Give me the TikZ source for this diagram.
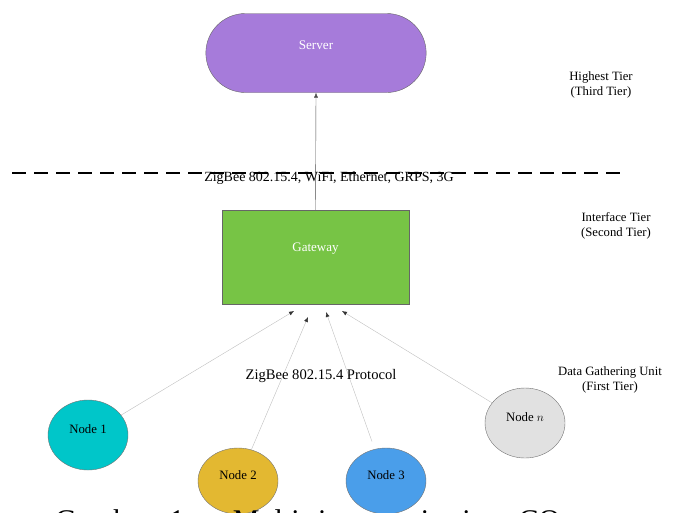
\documentclass[tikz,border=0pt]{standalone}
\usepackage{fontspec}
\setmainfont{Liberation Serif}
\usetikzlibrary{arrows.meta, shapes.geometric, shapes.misc}

\definecolor{serverpurple}{HTML}{A67BDA}
\definecolor{gatewaygreen}{HTML}{77C445}
\definecolor{nodecyan}{HTML}{00C6C9}
\definecolor{nodeyellow}{HTML}{E3B831}
\definecolor{nodeblue}{HTML}{4A9EEA}
\definecolor{nodegray}{HTML}{E1E1E1}

\begin{document}
\begin{tikzpicture}[x=1pt,y=-1pt,>={Latex[length=5pt,width=4pt]},
    tier/.style={align=center,font=\fontsize{12.7}{15.5}\selectfont},
    unit/.style={ellipse,draw=black!55,minimum width=80pt,minimum height=70pt,inner sep=0pt,text depth=11pt,font=\fontsize{12.8}{14}\selectfont},
    link/.style={draw=black!25,-{Latex[length=5pt,width=4pt,color=black!80]}}]
            \useasboundingbox (0,0) rectangle (676,512);

            % draw the tier border
            \draw[line width=2pt,dash pattern=on 14pt off 8pt] (12,173) -- (620,173);

            % server and gateway
            \node[rounded rectangle,draw=black!60,fill=serverpurple,minimum width=227pt,minimum height=79pt,
                label={[text=white,font=\fontsize{13.2}{14}\selectfont,yshift=8pt]center:Server}] (server) at (316,53) {};
            \node[rectangle,draw=black!60,fill=gatewaygreen,minimum width=187pt,minimum height=94pt,
                label={[text=white,font=\fontsize{13}{14}\selectfont,yshift=8pt]center:Gateway}] (gateway) at (315.5,257) {};

            %uplink
            \draw[black!70,->] (gateway.north) -- (server.south);
            \node[font=\fontsize{14}{15}\selectfont] (uplink) at (329,178) {ZigBee 802.15.4, WiFi, Ethernet, GRPS, 3G};

            % the sensor nodes
            \node[unit,fill=nodecyan,minimum height=70pt] (n1) at (88,435) {Node 1};
            \node[unit,fill=nodeyellow,minimum height=66pt] (n2) at (238,481) {Node 2};
            \node[unit,fill=nodeblue,minimum height=66pt] (n3) at (386,481) {Node 3};
            \node[unit,fill=nodegray,minimum height=70pt] (nn) at (525,423) {Node $n$};

            % arrow tips under the gateway
            \coordinate (t1) at (294,311);
            \coordinate (t2) at (308,317);
            \coordinate (t3) at (326,312);
            \coordinate (t4) at (342,311);
            \draw[link] (n1) -- (t1);
            \draw[link] (n2) -- (t2);
            \draw[link,shorten <=8pt] (n3) -- (t3);
            \draw[link] (nn) -- (t4);
            \node[font=\fontsize{14.6}{16}\selectfont] (protocol) at (321,376) {ZigBee 802.15.4 Protocol};

            % text at the right
            \node[tier] (third) at (601,85) {Highest Tier\\(Third Tier)};
            \node[tier] (second) at (616,226) {Interface Tier\\(Second Tier)};
            \node[tier] (first) at (610,380) {Data Gathering Unit\\(First Tier)};

            % caption, cut by the page
            \node[anchor=base west,inner sep=0pt,font=\fontsize{30}{32}\selectfont] (caption) at (55,530)
                {\makebox[505pt][s]{Gambar 1. Multi-tier monitoring CO}};
        \end{tikzpicture}
\end{document}
